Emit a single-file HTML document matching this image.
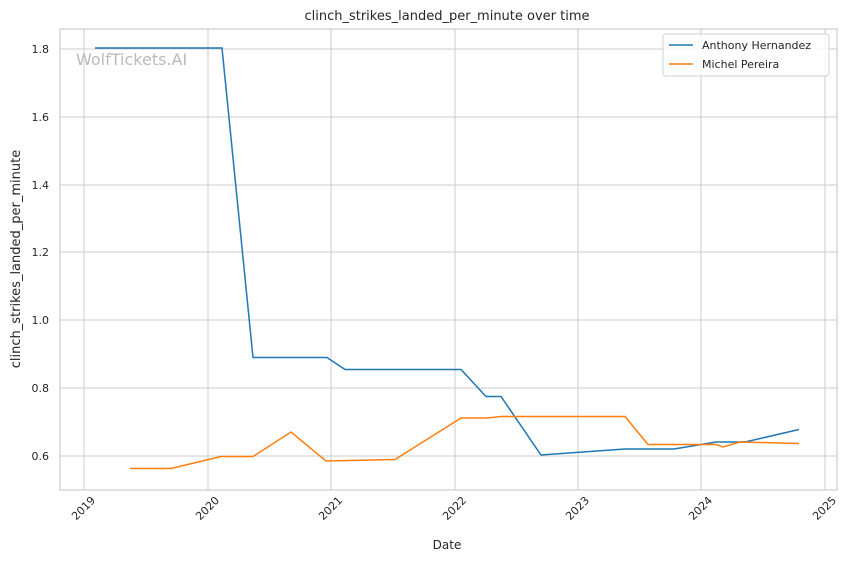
<!DOCTYPE html>
<html><head><style>body{margin:0;background:#fff;}svg{display:block;font-family:"DejaVu Sans","Liberation Sans",sans-serif;}</style></head>
<body>
<svg width="850" height="561" xmlns="http://www.w3.org/2000/svg">
<rect width="850" height="561" fill="#fff"/>
<g stroke="#cccccc" stroke-width="1">
<line x1="84" y1="29" x2="84" y2="490"/><line x1="208" y1="29" x2="208" y2="490"/><line x1="331" y1="29" x2="331" y2="490"/><line x1="455" y1="29" x2="455" y2="490"/><line x1="578" y1="29" x2="578" y2="490"/><line x1="701" y1="29" x2="701" y2="490"/><line x1="825" y1="29" x2="825" y2="490"/>
<line x1="60" y1="49" x2="837" y2="49"/><line x1="60" y1="117" x2="837" y2="117"/><line x1="60" y1="185" x2="837" y2="185"/><line x1="60" y1="252" x2="837" y2="252"/><line x1="60" y1="320" x2="837" y2="320"/><line x1="60" y1="388" x2="837" y2="388"/><line x1="60" y1="456" x2="837" y2="456"/>
</g>
<rect x="60" y="29" width="777" height="461" fill="none" stroke="#cccccc" stroke-width="1.2"/>
<text x="76" y="65" font-size="16" fill="#bbbbbb">WolfTickets.AI</text>
<polyline fill="none" stroke="#1f77b4" stroke-width="1.5" points="95,48 222,48 253,357.5 327,357.5 345,369.5 461,369.5 486,396.5 501,396.5 541,455 625,449 674,449 716,442 745,442 799,429.5"/>
<polyline fill="none" stroke="#ff7f0e" stroke-width="1.5" points="130,468.5 171,468.5 221,456.5 253,456.5 291,432 326,461 395,459.5 461,418 487,418 501,416.5 625,416.5 648,444.5 716,444.5 723,447 740,442 799,443.5"/>
<g font-size="11" fill="#262626" text-anchor="end">
<text x="49" y="53">1.8</text><text x="49" y="121">1.6</text><text x="49" y="189">1.4</text><text x="49" y="256">1.2</text><text x="49" y="324">1.0</text><text x="49" y="392">0.8</text><text x="49" y="460">0.6</text>
</g>
<g font-size="11" fill="#262626" text-anchor="end">
<text transform="translate(96,501) rotate(-45)">2019</text>
<text transform="translate(220,501) rotate(-45)">2020</text>
<text transform="translate(343,501) rotate(-45)">2021</text>
<text transform="translate(467,501) rotate(-45)">2022</text>
<text transform="translate(590,501) rotate(-45)">2023</text>
<text transform="translate(713,501) rotate(-45)">2024</text>
<text transform="translate(837,501) rotate(-45)">2025</text>
</g>
<text x="447" y="549" font-size="12" fill="#262626" text-anchor="middle">Date</text>
<text transform="translate(20,259) rotate(-90)" font-size="13" fill="#262626" text-anchor="middle">clinch_strikes_landed_per_minute</text>
<text x="447" y="20" font-size="13" fill="#262626" text-anchor="middle">clinch_strikes_landed_per_minute over time</text>
<rect x="663" y="34" width="166" height="42" rx="3" fill="#fff" fill-opacity="0.8" stroke="#d0d0d0"/>
<line x1="669" y1="45" x2="693" y2="45" stroke="#1f77b4" stroke-width="1.5"/>
<line x1="669" y1="64" x2="693" y2="64" stroke="#ff7f0e" stroke-width="1.5"/>
<text x="702" y="49" font-size="11" fill="#262626">Anthony Hernandez</text>
<text x="702" y="68" font-size="11" fill="#262626">Michel Pereira</text>
</svg>
</body></html>
